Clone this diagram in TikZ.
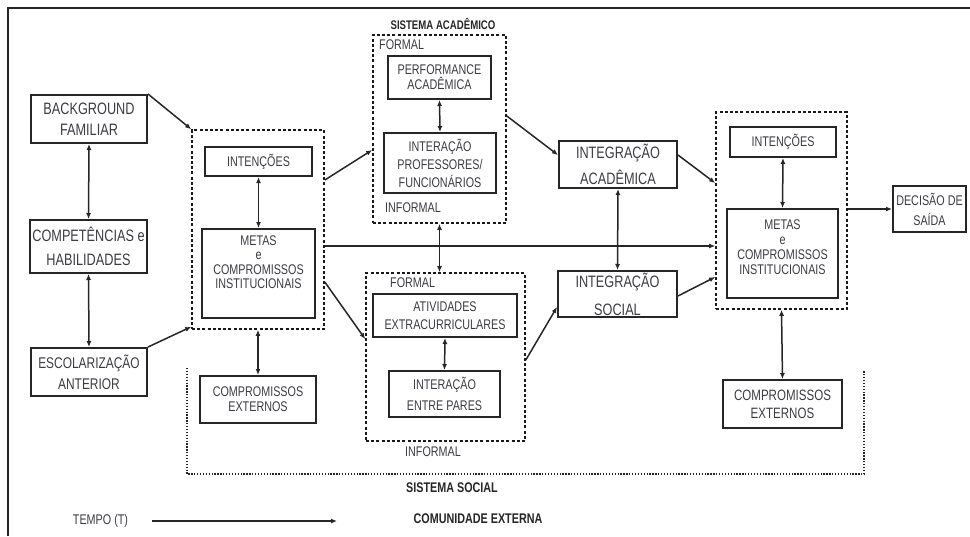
\documentclass[tikz,border=0pt]{standalone}
\usepackage{fontspec}
\setmainfont{Liberation Sans}[FakeStretch=0.77]
\usetikzlibrary{arrows.meta}
\definecolor{TextGray}{RGB}{62,58,66}
\definecolor{LineGray}{RGB}{38,38,38}

\begin{document}
\begin{tikzpicture}[x=1pt,y=-1pt,
    lsp/.style={font=\fontsize{14}{#1}\selectfont},
    big/.style={font=\fontsize{16.5}{#1}\selectfont},
    box/.style={draw=LineGray,line width=2pt,text=TextGray,align=center,inner sep=0pt,lsp=17},
    dbox/.style={draw=black!90,line width=1.6pt,dash pattern=on 3pt off 2.2pt,inner sep=0pt},
    lbl/.style={text=TextGray,inner sep=0pt,lsp=17},
    ttl/.style={text=black!85,inner sep=0pt,font=\bfseries\fontsize{14}{17}\selectfont},
    arr/.style={draw=LineGray,line width=1.5pt,-{Latex[length=6pt,width=5pt]}},
    darr/.style={draw=LineGray,line width=1.5pt,{Latex[length=6pt,width=5pt]}-{Latex[length=6pt,width=5pt]}}]

    \useasboundingbox (0,0) rectangle (970,536);
    \draw[LineGray,line width=1.2pt] (8,536) -- (8,8) -- (970,8);

    % left column
    \node[box,minimum width=116,minimum height=48,big=21] (bg) at (89,119) {BACKGROUND\\FAMILIAR};
    \node[box,minimum width=117,minimum height=53,big=24] (comp) at (88.5,246.5) {COMPET\^ENCIAS e\\HABILIDADES};
    \node[box,minimum width=116,minimum height=48,font=\fontsize{15.5}{21}\selectfont] (escol) at (89,372) {ESCOLARIZA\c{C}\~AO\\ANTERIOR};

    % intencoes / metas (entrada)
    \node[dbox,minimum width=132,minimum height=199] (dint) at (258,229.5) {};
    \node[box,minimum width=107,minimum height=29] (intA) at (258.5,161.5) {INTEN\c{C}\~OES};
    \node[box,minimum width=113,minimum height=89] (metasA) at (258.5,273.5) {};
    \node[lbl,align=center,lsp=14.5] (metasAtxt) at (258.5,262) {METAS\\e\\COMPROMISSOS\\INSTITUCIONAIS};
    \node[box,minimum width=116,minimum height=47,lsp=15] (extA) at (258,399.5) {COMPROMISSOS\\EXTERNOS};

    % sistema academico
    \node[ttl,font=\bfseries\fontsize{12.5}{15}\selectfont] (tacad) at (443,24) {SISTEMA ACAD\^EMICO};
    \node[dbox,minimum width=133,minimum height=188] (dacad) at (439.5,129) {};
    \node[lbl,anchor=west] (facad) at (379,45) {FORMAL};
    \node[box,minimum width=103,minimum height=43,lsp=15] (perf) at (439.5,77.5) {PERFORMANCE\\ACAD\^EMICA};
    \node[box,minimum width=112,minimum height=60,lsp=18] (intprof) at (440,163) {INTERA\c{C}\~AO\\PROFESSORES/\\FUNCION\'ARIOS};
    \node[lbl,anchor=west] (iacad) at (385,208) {INFORMAL};

    % sistema social
    \node[dbox,minimum width=159,minimum height=168] (dsoc) at (445.5,357) {};
    \node[lbl,anchor=west] (fsoc) at (390,283) {FORMAL};
    \node[box,minimum width=144,minimum height=43,lsp=18] (ativ) at (445,315.5) {ATIVIDADES\\EXTRACURRICULARES};
    \node[box,minimum width=111,minimum height=46,lsp=21] (pares) at (444.5,394) {INTERA\c{C}\~AO\\ENTRE PARES};
    \node[lbl,anchor=west] (isoc) at (405,452) {INFORMAL};

    % integracao
    \node[box,minimum width=118,minimum height=47,big=26] (integA) at (618,164.5) {INTEGRA\c{C}\~AO\\ACAD\^EMICA};
    \node[box,minimum width=119,minimum height=46,big=28] (integS) at (617.5,294) {INTEGRA\c{C}\~AO\\SOCIAL};

    % intencoes / metas (saida)
    \node[dbox,minimum width=131,minimum height=197] (dout) at (781.5,210.5) {};
    \node[box,minimum width=106,minimum height=30] (intB) at (783,142) {INTEN\c{C}\~OES};
    \node[box,minimum width=111,minimum height=89] (metasB) at (782.5,253.5) {};
    \node[lbl,align=center,lsp=15] (metasBtxt) at (782.5,247) {METAS\\e\\COMPROMISSOS\\INSTITUCIONAIS};
    \node[box,minimum width=119,minimum height=48,font=\fontsize{15}{18}\selectfont] (extB) at (782.5,404) {COMPROMISSOS\\EXTERNOS};
    \node[box,minimum width=73,minimum height=46,lsp=20] (saida) at (929.5,209) {DECIS\~AO DE\\SA\'IDA};

    % comunidade externa
    \draw[black!85,line width=1.1pt,dash pattern=on 1.3pt off 1.6pt] (187,368) -- (187,474) -- (864,474) -- (864,370);
    \node[ttl] (tsoc) at (452,488) {SISTEMA SOCIAL};
    \node[lbl] (tempo) at (100.5,521) {TEMPO (T)};
    \node[ttl] (comun) at (478,519) {COMUNIDADE EXTERNA};
    \coordinate (t0) at (152,521);
    \coordinate (t1) at (337,521);

    % connectors
    \draw[darr] (bg.south) -- (comp.north);
    \draw[darr] (comp.south) -- (escol.north);
    \draw[arr] (bg.north east) -- (dint.north west);
    \draw[arr] (escol.north east) -- ([yshift=3pt]dint.south west);
    \draw[darr] (intA.south) -- (metasA.north);
    \draw[darr] (dint.south) -- (extA.north);
    \draw[arr] ([yshift=49.5pt]dint.east) -- ([yshift=-21pt]dacad.west);
    \draw[arr] ([yshift=-52.5pt]dint.east) -- ([yshift=18pt]dsoc.west);
    \draw[arr] ([yshift=-16.5pt]dint.east) coordinate (l0) -- (l0 -| dout.west);
    \draw[darr] (perf.south) -- (intprof.north);
    \draw[darr] (dacad.south) -- (dacad.south |- dsoc.north);
    \draw[darr] (ativ.south) -- (pares.north);
    \draw[arr] ([yshift=13pt]dacad.east) -- ([yshift=9.5pt]integA.west);
    \draw[arr] ([yshift=-3pt]dsoc.east) -- ([yshift=-13pt]integS.west);
    \draw[darr] (integA.south) -- (integS.north);
    \draw[arr] ([yshift=9.5pt]integA.east) -- ([yshift=27.5pt]dout.west);
    \draw[arr] ([yshift=-2pt]integS.east) -- ([yshift=-66.5pt]dout.west);
    \draw[darr] (intB.south) -- (metasB.north);
    \draw[darr] (dout.south) -- (extB.north);
    \draw[arr] (dout.east |- saida.west) -- (saida.west);
    \draw[arr] (t0) -- (t1);
\end{tikzpicture}
\end{document}
